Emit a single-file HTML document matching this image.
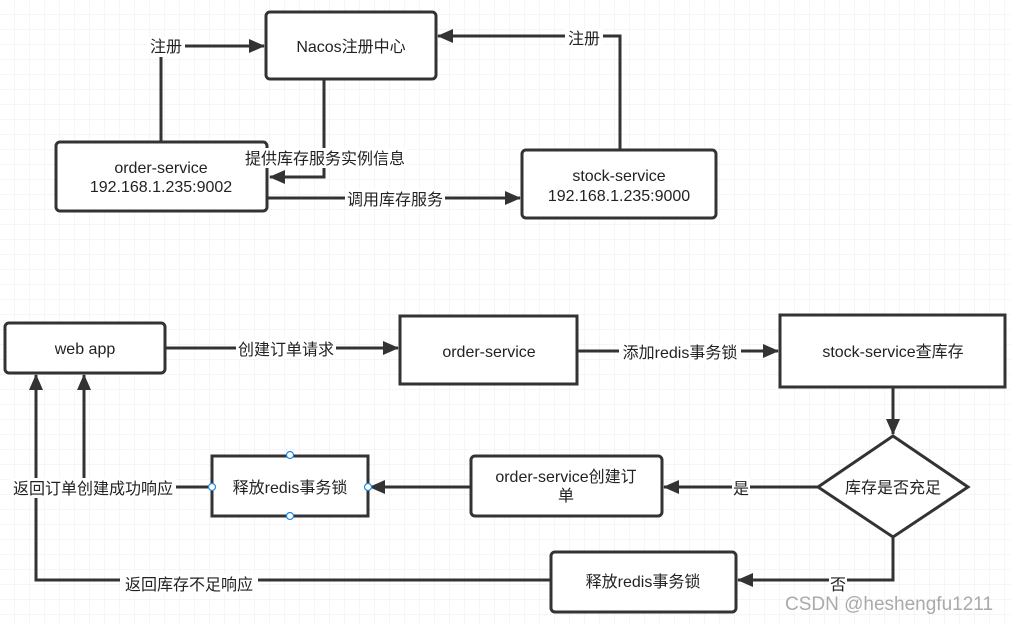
<!DOCTYPE html>
<html><head><meta charset="utf-8"><style>
html,body{margin:0;padding:0;background:#fff;}
svg text{font-family:"Liberation Sans","Noto Sans CJK SC",sans-serif;fill:#222;}
</style></head><body>
<svg width="1011" height="624" xmlns="http://www.w3.org/2000/svg">
<defs>
<pattern id="g" width="15" height="15" patternUnits="userSpaceOnUse"><path d="M15 0V15H0" fill="none" stroke="#ececec" stroke-width="1"/></pattern>
<marker id="b" markerWidth="16" markerHeight="14" refX="15" refY="7" orient="auto" markerUnits="userSpaceOnUse"><path d="M0,0 L16,7 L0,14 Z" fill="#333"/></marker>
</defs>
<rect width="1011" height="624" fill="url(#g)"/>
<g fill="none" stroke="#333" stroke-width="3">
<path d="M161 142V46H264" marker-end="url(#b)"/>
<path d="M324 79V177H270" marker-end="url(#b)"/>
<path d="M267 198H520" marker-end="url(#b)"/>
<path d="M620 150V36H438" marker-end="url(#b)"/>
<path d="M165 348H398" marker-end="url(#b)"/>
<path d="M577 351H778" marker-end="url(#b)"/>
<path d="M893 387V434" marker-end="url(#b)"/>
<path d="M818 487H664" marker-end="url(#b)"/>
<path d="M471 487H370" marker-end="url(#b)"/>
<path d="M212 487H84V375" marker-end="url(#b)"/>
<path d="M893 537V580H738" marker-end="url(#b)"/>
<path d="M551 580H36V375" marker-end="url(#b)"/>
</g>
<g fill="#fff" stroke="#333" stroke-width="3">
<rect x="266" y="12" width="170" height="67" rx="4"/>
<rect x="56" y="142" width="211" height="69" rx="4"/>
<rect x="522" y="150" width="194" height="68" rx="4"/>
<rect x="5" y="323" width="160" height="50" rx="4"/>
<rect x="400" y="316" width="177" height="68"/>
<rect x="780" y="315" width="225" height="72"/>
<path d="M893 436L968 487L893 537L818 487Z"/>
<rect x="471" y="456" width="191" height="60" rx="4"/>
<rect x="212" y="456" width="156" height="60"/>
<rect x="551" y="552" width="185" height="60" rx="4"/>
</g>
<g fill="#fff" stroke="#1e88e5" stroke-width="1.2">
<circle cx="290" cy="455" r="3.5"/><circle cx="290" cy="516" r="3.5"/>
<circle cx="212" cy="487" r="3.5"/><circle cx="368" cy="487" r="3.5"/>
</g>
<g font-size="16" text-anchor="middle">
<rect x="147" y="37" width="38" height="20" fill="#fff"/><text x="166" y="52">注册</text>
<rect x="565" y="29" width="38" height="20" fill="#fff"/><text x="584" y="44">注册</text>
<rect x="243" y="148" width="164" height="20" fill="#fff"/><text x="325" y="164">提供库存服务实例信息</text>
<rect x="345" y="189" width="100" height="20" fill="#fff"/><text x="395" y="205">调用库存服务</text>
<rect x="236" y="339" width="100" height="20" fill="#fff"/><text x="286" y="355">创建订单请求</text>
<rect x="619" y="342" width="122" height="20" fill="#fff"/><text x="680" y="358">添加redis事务锁</text>
<rect x="732" y="478" width="18" height="20" fill="#fff"/><text x="741" y="494">是</text>
<rect x="829" y="573" width="18" height="20" fill="#fff"/><text x="838" y="590">否</text>
<rect x="10" y="478" width="166" height="20" fill="#fff"/><text x="93" y="494">返回订单创建成功响应</text>
<rect x="120" y="574" width="138" height="20" fill="#fff"/><text x="189" y="590">返回库存不足响应</text>
<text x="351" y="52">Nacos注册中心</text>
<text x="161" y="173">order-service</text><text x="161" y="192">192.168.1.235:9002</text>
<text x="619" y="181">stock-service</text><text x="619" y="201">192.168.1.235:9000</text>
<text x="85" y="354">web app</text>
<text x="489" y="357">order-service</text>
<text x="893" y="357">stock-service查库存</text>
<text x="893" y="493">库存是否充足</text>
<text x="566" y="482">order-service创建订</text><text x="566" y="501">单</text>
<text x="290" y="493">释放redis事务锁</text>
<text x="643" y="587">释放redis事务锁</text>
</g>
<text x="785" y="610" font-size="19" style="fill:#aaa">CSDN @heshengfu1211</text>
</svg>
</body></html>
